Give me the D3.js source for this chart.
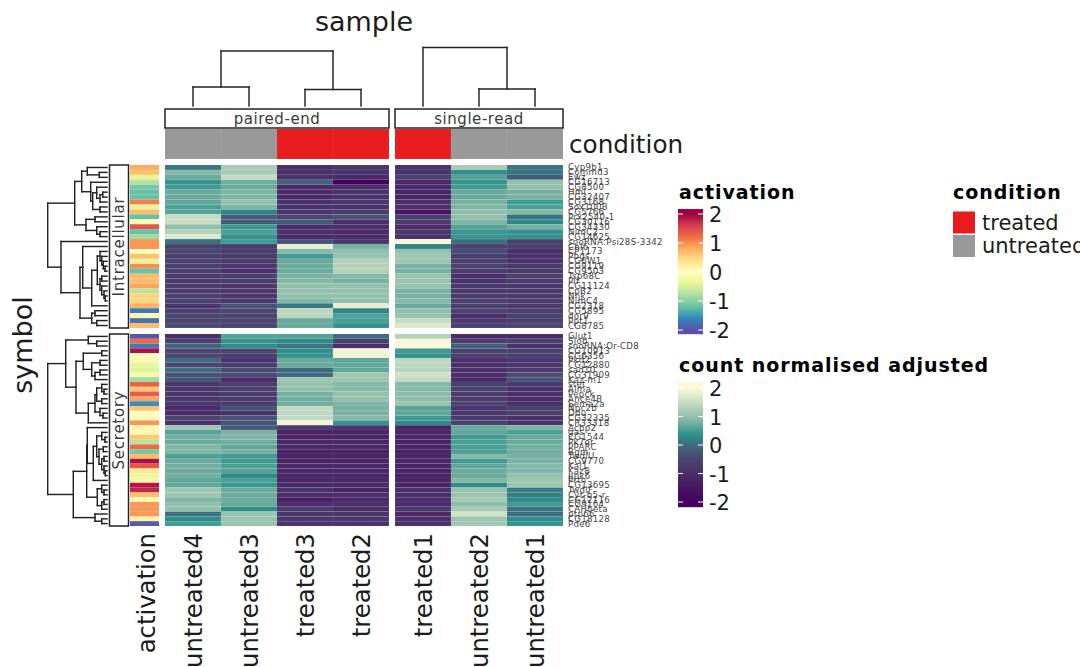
<!DOCTYPE html>
<html><head><meta charset="utf-8">
<script src="https://cdn.jsdelivr.net/npm/d3@7"></script>
<style>html,body{margin:0;padding:0;background:#fff;overflow:hidden}svg{display:block}text{font-family:"DejaVu Sans",sans-serif}</style>
</head><body><svg id="c" width="1080" height="667"></svg>
<script>
// ---- data ----
const samplesLeft = ["untreated4","untreated3","treated3","treated2"];
const samplesRight = ["treated1","untreated2","untreated1"];
const conditionLeft = ["untreated","untreated","treated","treated"];
const conditionRight = ["treated","untreated","untreated"];
const facetTitles = ["paired-end","single-read"];
const rowGroups = ["Intracellular","Secretory"];
const symbolsTop = ["Cyp9b1","Commd3","Ewz","CG16713","CG8500","Hml","CG32407","CG3168","Sox100B","CG5766","Prx2540-1","CG30116","CG34330","NimC2","CG14625","snoRNA:Psi28S-3342","Cbl6","CP1173","Pbgs","CG6W1","CG9119","CG9503","Tsp68C","Pif","CG11124","CpB2","Nnk","NimC4","CG2318","CG5895","dor9","Ppt1","CG8785"];
const symbolsBottom = ["Glut1","Slob","snoRNA:Or-CD8","CG10913","CG6356","Pkd2","CG12880","sad10","CG31909","Kaz-m1","stet","Alma","Pepck","Ance4B","Sema2a","Npc2b","Ddu","CG32335","CR33318","Acbp2","gas","CG1544","Pk7or","PPARC","Bgm","TwdlU","CG9770","Kal1","Kaz8","ppk6","Prtn","CG13695","TwdlF","Cyt-b5-r","CG12116","CG9164","CAHbeta","ptp66","CG18128","Pde6"];

const activationTop = [0.8,0.65,-0.4,-0.75,-1.1,-1.2,-1.2,1.1,-0.4,0.7,-1.2,0.05,1.4,-1.2,-0.85,0.95,0.95,-0.05,0.65,-0.35,1.0,-1.2,0.7,0.7,0.85,-0.7,0.5,0.5,0.75,-1.7,0.1,-1.75,0.7];
const activationBottom = [-1.95,1.25,-1.7,1.9,0.05,-0.15,-0.35,-0.45,-0.2,-0.85,1.3,0.6,1.35,0.85,-1.55,0.65,0.05,-0.1,0.95,0.1,0.1,0.6,-0.7,1.25,-1.1,0.7,1.9,1.4,0.3,-0.3,0.15,1.85,1.75,0.65,0.1,0.95,0.95,0.95,0.2,-1.9];

const untreated4Top = [0.1,0.9,0.7,0.4,0.5,0.7,0.7,0.65,0.55,0.6,1.5,1.5,1.0,1.3,1.7,0.05,-0.6,-0.5,-0.6,-0.55,-0.6,-0.6,-0.7,-0.7,-0.7,-0.7,-0.6,-0.55,-0.8,-0.6,-0.5,-0.5,-0.4];
const untreated3Top = [1.2,1.2,1.5,0.75,0.7,0.85,0.85,1.0,0.85,0.25,-0.2,-0.2,0.45,0.55,0.4,0.5,-0.7,-0.7,-0.7,-0.7,-0.8,-0.9,-0.6,-0.7,-0.8,-0.8,-0.8,-0.8,-0.3,-0.5,-0.5,-0.5,-0.5];
const treated3Top = [-1.0,-1.0,-0.9,-0.1,-1.1,-1.1,-1.1,-0.9,-0.9,-0.8,-0.5,-0.2,-1.0,-1.0,-1.1,-0.3,1.8,0.9,0.5,0.7,0.7,0.7,0.8,0.9,1.0,1.0,1.0,0.9,0.15,1.4,1.4,0.7,0.7];
const treated2Top = [-0.8,-0.9,-1.1,-2.0,-1.0,-0.9,-0.9,-0.8,-0.9,-0.7,-0.3,-1.0,-1.0,-1.1,-1.0,-0.8,0.8,1.0,1.05,1.3,1.3,1.3,0.9,0.8,1.0,1.0,1.0,1.0,1.8,0.25,0.55,0.55,0.4];
const treated1Top = [-0.9,-0.9,-0.6,-1.1,-1.1,-1.2,-1.2,-1.0,-1.0,-1.6,-0.7,-0.7,-1.1,-0.8,-0.9,1.95,0.25,1.0,1.1,1.1,0.8,0.8,1.05,1.05,1.05,0.8,0.8,0.9,0.7,1.0,1.05,1.5,1.7];
const untreated2Top = [1.2,0.35,0.6,0.4,0.5,0.7,0.7,0.8,0.85,1.0,1.0,0.85,0.6,0.45,0.45,0.0,-0.6,-0.4,-0.7,-0.6,-0.6,-0.7,-1.0,-0.9,-0.8,-0.7,-0.7,-0.6,-0.6,-0.6,-1.0,-0.7,-0.6];
const untreated1Top = [0.1,0.1,-0.2,1.0,1.0,0.8,0.8,0.5,0.55,0.9,0.1,0.3,0.8,0.4,0.4,-0.6,-0.6,-1.0,-0.9,-0.9,-0.8,-0.7,-0.6,-0.7,-0.8,-0.7,-0.7,-0.7,-0.7,-0.7,-0.6,-0.6,-0.5];

const untreated4Bottom = [-1.0,-0.6,-0.1,-0.5,-0.5,-0.05,-0.5,0.0,-0.3,-0.3,-0.8,-0.8,-0.8,-0.8,-0.8,-1.1,-1.1,-0.5,-1.0,1.1,0.6,0.75,0.7,0.85,0.85,0.55,0.7,0.75,0.7,0.75,0.65,0.65,1.1,1.1,0.85,1.0,1.0,0.05,0.3,0.5];
const untreated3Bottom = [0.6,0.4,0.35,-0.5,-0.6,-0.9,-0.7,-0.4,-0.4,-1.1,-0.6,-0.6,-0.7,-0.7,-0.7,-0.3,-0.9,-0.3,-0.3,-0.2,0.8,0.85,0.75,0.65,0.8,0.5,0.5,0.55,0.6,0.3,0.55,0.45,0.7,0.7,0.7,0.7,0.35,1.05,1.05,1.05];
const treated3Bottom = [0.6,0.3,0.1,0.35,0.4,0.7,0.7,-0.05,-0.05,1.1,1.0,1.0,0.8,0.75,0.75,1.45,1.45,1.45,1.9,-0.7,-1.2,-1.2,-1.15,-1.15,-1.2,-1.2,-1.2,-1.15,-1.15,-1.15,-1.15,-1.1,-0.9,-1.0,-1.3,-1.0,-0.7,-0.8,-0.8,-0.9];
const treated2Bottom = [0.0,-0.6,-1.0,1.9,1.9,0.65,0.65,0.65,1.1,1.1,0.9,0.9,1.0,1.0,0.85,0.8,0.8,0.9,0.4,-0.9,-1.2,-1.2,-1.15,-1.15,-1.2,-1.2,-1.2,-1.15,-1.15,-1.15,-1.15,-1.1,-1.2,-1.0,-1.15,-1.0,-1.0,-0.8,-0.8,-0.9];
const treated1Bottom = [1.3,1.95,2.0,0.5,0.4,1.4,1.4,1.35,1.6,1.45,0.9,0.9,0.95,0.95,1.05,0.6,0.65,0.5,0.3,-1.2,-1.2,-1.2,-1.2,-1.2,-1.2,-1.2,-1.2,-1.2,-1.2,-1.2,-1.2,-1.2,-1.0,-1.05,-1.0,-1.05,-0.8,-1.1,-1.0,-1.0];
const untreated2Bottom = [-1.1,-0.7,-0.15,-0.6,-0.6,-1.0,-1.0,-1.0,-1.0,-1.1,-0.6,-0.6,-0.7,-0.7,-0.5,-0.8,-0.8,-0.7,-0.6,0.7,0.65,0.5,0.55,0.55,0.55,0.9,0.5,0.65,0.7,0.7,0.9,0.3,1.05,1.05,1.2,0.95,1.2,1.6,1.1,1.15];
const untreated1Bottom = [-1.1,-0.6,-0.9,-0.6,-0.6,-0.8,-0.8,-0.7,-0.4,-0.3,-0.8,-1.0,-1.0,-1.0,-1.0,-0.6,-0.6,-0.9,-0.9,0.85,0.55,0.7,0.7,0.75,0.75,0.8,0.8,0.9,0.85,1.0,1.1,1.1,0.15,0.15,0.3,0.5,0.1,0.0,0.35,0.4];

const columnsTop = [untreated4Top,untreated3Top,treated3Top,treated2Top,treated1Top,untreated2Top,untreated1Top];
const columnsBottom = [untreated4Bottom,untreated3Bottom,treated3Bottom,treated2Bottom,treated1Bottom,untreated2Bottom,untreated1Bottom];

// dendrograms: [height, child, child]; a plain number is a leaf row
const treeTop = [59.3,
  [32.3,
    [25.3,[19.7,0,[7.7,1,2]],[16.3,3,[14.3,[10.3,4,[7,[4.3,5,6],7]],[7,8,9]]]],
    [21,[12,10,11],[10.3,12,[7,13,14]]]],
  [46,15,[27,
    [24.3,16,[15.3,[9.7,[7,17,[5.3,18,[3.7,19,[2,20,21]]]],[7,[5.3,22,23],[5.3,24,[3,25,[1.7,26,27]]]]],28]],
    [15.3,[12,29,30],[10.3,31,32]]]]];
const treeBottom = [59.3,
  [41.3,
    [18.7,0,[10.3,1,2]],
    [31,
      [23.7,[5.3,3,4],[15.3,[7,5,6],[12,[7,7,8],9]]],
      [18.7,[12,[10.3,[5.3,10,[3,11,12]],[5.3,13,14]],[7,15,[4,16,17]]],18]]],
  [33.7,
    [20.3,[19.7,19,[13.7,[10.3,[5.3,20,[2,21,22]],[8,[3.7,23,24],[5.3,[3,25,26],[3,27,[1.7,28,29]]]]],30]],
      [9.7,[5.3,31,[3,32,33]],[5.3,[3,34,35],36]]],
    [12,37,[5.3,38,39]]]];
const treeSamplesLeft = [55,[19,0,1],[16.5,2,3]];
const treeSamplesRight = [58.5,0,[17,1,2]];

const countLegendTicks = [2,1,0,-1,-2];
const conditionLevels = ["treated","untreated"];

// ---- scales ----
const svg = d3.select("#c");
const ink = "#1c1c1c";
const activationColor = d3.scaleLinear()
  .domain([-2,-1.6,-1.2,-0.8,-0.4,0,0.4,0.8,1.2,1.6,2])
  .range(["#5e4fa2","#3288bd","#66c2a5","#abdda4","#e6f598","#ffffbf","#fee08b","#fdae61","#f46d43","#d53e4f","#9e0142"]).clamp(true);
const countColor = d3.scaleLinear()
  .domain([-2,-1.3,-1,-0.5,0,0.3,0.45,0.7,1,1.5,2])
  .range(["#44035c","#4a1f64","#4a2f6b","#4b4570","#3f6c7f","#2f8a88","#38978f","#6aaa9d","#93c0ac","#c6dcc4","#fdf9d8"]).clamp(true);
const conditionColor = d3.scaleOrdinal(conditionLevels,["#e81c1f","#999999"]);

const xLeft = d3.scaleBand(samplesLeft,[165,389]);
const xRight = d3.scaleBand(samplesRight,[395,563]);
const yTop = d3.scaleBand(symbolsTop,[165,328]);
const yBottom = d3.scaleBand(symbolsBottom,[334,526]);
const allSamples = [...samplesLeft.map(s=>[s,xLeft]),...samplesRight.map(s=>[s,xRight])];

// heat cells
function heat(columns,yS,names){
  allSamples.forEach(([s,xS],ci)=>{
    svg.append("g").selectAll("rect").data(columns[ci]).join("rect")
      .attr("x",xS(s)).attr("width",xS.bandwidth())
      .attr("y",(d,i)=>yS(names[i])).attr("height",yS.bandwidth())
      .attr("fill",d=>countColor(d))
      .attr("stroke","#fff").attr("stroke-opacity",0.09).attr("stroke-width",0.6);
  });
}
heat(columnsTop,yTop,symbolsTop);
heat(columnsBottom,yBottom,symbolsBottom);

// activation column
const xAct = d3.scaleBand(["activation"],[130,159]);
function actCol(vals,yS,names){
  svg.append("g").selectAll("rect").data(vals).join("rect")
    .attr("x",xAct("activation")).attr("width",xAct.bandwidth())
    .attr("y",(d,i)=>yS(names[i])).attr("height",yS.bandwidth())
    .attr("fill",d=>activationColor(d));
}
actCol(activationTop,yTop,symbolsTop);
actCol(activationBottom,yBottom,symbolsBottom);

// condition row
const yCond = d3.scaleBand(["condition"],[129,159]);
allSamples.forEach(([s,xS],i)=>{
  const cond = i<4?conditionLeft[i]:conditionRight[i-4];
  svg.append("rect").attr("x",xS(s)).attr("width",xS.bandwidth())
    .attr("y",yCond("condition")).attr("height",yCond.bandwidth())
    .attr("fill",conditionColor(cond)).attr("stroke","#fff").attr("stroke-opacity",0.09).attr("stroke-width",0.6);
});

// dendrograms
function drawTree(tree,leafPos,heightPos,horizontal){
  const g = svg.append("g").attr("fill","none").attr("stroke","#222").attr("stroke-width",1.45);
  const seg = (h1,p1,h2,p2)=>{
    const pts = horizontal?[[heightPos(h1),p1],[heightPos(h2),p2]]:[[p1,heightPos(h1)],[p2,heightPos(h2)]];
    g.append("line").attr("x1",pts[0][0]).attr("y1",pts[0][1]).attr("x2",pts[1][0]).attr("y2",pts[1][1]).attr("stroke-linecap","square");
  };
  (function walk(n){
    if(typeof n==="number") return {p:leafPos(n),h:0};
    const a=walk(n[1]),b=walk(n[2]),h=n[0],p=(a.p+b.p)/2;
    seg(h,a.p,h,b.p); seg(h,a.p,a.h,a.p); seg(h,b.p,b.h,b.p);
    return {p,h};
  })(tree);
}
const rowHeight = d3.scaleLinear([0,60],[107,47]);
const colHeight = d3.scaleLinear([0,59],[106,47]);
drawTree(treeTop,i=>yTop(symbolsTop[i])+yTop.bandwidth()/2,rowHeight,true);
drawTree(treeBottom,i=>yBottom(symbolsBottom[i])+yBottom.bandwidth()/2,rowHeight,true);
drawTree(treeSamplesLeft,i=>xLeft(samplesLeft[i])+xLeft.bandwidth()/2,colHeight,false);
drawTree(treeSamplesRight,i=>xRight(samplesRight[i])+xRight.bandwidth()/2,colHeight,false);

// strips
function strip(x,y,w,h,label,rot){
  svg.append("rect").attr("x",x).attr("y",y).attr("width",w).attr("height",h)
    .attr("fill","#fff").attr("stroke","#222").attr("stroke-width",1.5);
  const t = svg.append("text").text(label).attr("fill","#3a3a3a").attr("font-size",15)
    .attr("letter-spacing",rot?0.75:0.55).attr("text-anchor","middle").attr("dominant-baseline","central");
  if(rot) t.attr("transform",`translate(${x+w/2},${y+h/2}) rotate(-90)`);
  else t.attr("x",x+w/2).attr("y",y+h/2);
}
strip(165,109,224,19,facetTitles[0],false);
strip(395,109,168,19,facetTitles[1],false);
strip(109.5,165,19,163,rowGroups[0],true);
strip(109.5,334,19,192,rowGroups[1],true);

// row labels
function rowLabels(names,yS){
  svg.append("g").selectAll("text").data(names).join("text").text(d=>d)
    .attr("x",568).attr("y",d=>yS(d)+yS.bandwidth()/2).attr("dominant-baseline","central")
    .attr("font-size",8.6).attr("letter-spacing",0.3).attr("fill","#3f3f3f");
}
rowLabels(symbolsTop,yTop);
rowLabels(symbolsBottom,yBottom);

// column labels
allSamples.forEach(([s,xS])=>{
  svg.append("text").text(s).attr("font-size",24.3).attr("fill",ink).attr("text-anchor","end")
    .attr("dominant-baseline","central")
    .attr("transform",`translate(${xS(s)+xS.bandwidth()/2},533) rotate(-90)`);
});
svg.append("text").text("activation").attr("font-size",24.3).attr("fill",ink).attr("text-anchor","end")
  .attr("dominant-baseline","central").attr("transform","translate(146,533) rotate(-90)");

// titles
svg.append("text").text("sample").attr("x",364).attr("y",31).attr("text-anchor","middle").attr("font-size",27).attr("fill",ink);
svg.append("text").text("symbol").attr("text-anchor","middle").attr("font-size",27).attr("fill",ink)
  .attr("transform","translate(32,345) rotate(-90)");
svg.append("text").text("condition").attr("x",569).attr("y",153).attr("font-size",24.7).attr("fill",ink);

// colour legends
function colorbar(title,scale,titleY,barTop,barBottom,y2,yNeg2){
  svg.append("text").text(title).attr("x",679).attr("y",titleY).attr("font-size",19).attr("letter-spacing",0.95).attr("font-weight","bold").attr("fill","#000");
  const yS = d3.scaleLinear([-2,2],[yNeg2,y2]);
  const steps = d3.range(barTop,barBottom,1);
  svg.append("g").selectAll("rect").data(steps).join("rect")
    .attr("x",678).attr("width",25).attr("y",d=>d).attr("height",1.2)
    .attr("fill",d=>scale(yS.invert(d+0.5)));
  countLegendTicks.forEach(t=>{
    const y=yS(t);
    [[678,683],[698,703]].forEach(([a,b])=>svg.append("line").attr("x1",a).attr("x2",b).attr("y1",y).attr("y2",y).attr("stroke","#fff").attr("stroke-width",1));
    svg.append("text").text(t).attr("x",709).attr("y",y+1).attr("dominant-baseline","central").attr("font-size",21).attr("fill",ink);
  });
}
colorbar("activation",activationColor,199,209,334,214,330);
colorbar("count normalised adjusted",countColor,372,382,507,388,502);

// condition legend
svg.append("text").text("condition").attr("x",953).attr("y",199).attr("font-size",19).attr("letter-spacing",0.95).attr("font-weight","bold").attr("fill","#000");
const yLegend = d3.scaleBand(conditionLevels,[211,258]);
conditionLevels.forEach(c=>{
  svg.append("rect").attr("x",953).attr("width",22).attr("y",yLegend(c)+0.5).attr("height",yLegend.bandwidth()-1.5).attr("fill",conditionColor(c));
  svg.append("text").text(c).attr("x",982).attr("y",yLegend(c)+yLegend.bandwidth()/2).attr("dominant-baseline","central").attr("font-size",21).attr("fill",ink);
});
</script></body></html>
